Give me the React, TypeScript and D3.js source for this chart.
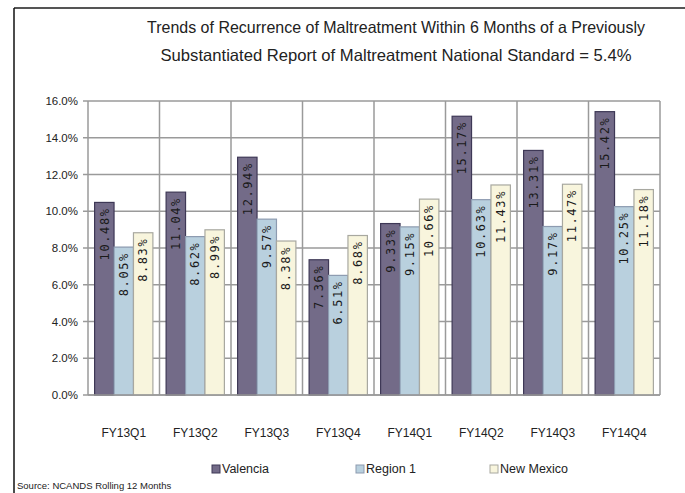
import * as React from 'react';
import * as d3 from 'd3';

const categories = ['FY13Q1', 'FY13Q2', 'FY13Q3', 'FY13Q4', 'FY14Q1', 'FY14Q2', 'FY14Q3', 'FY14Q4'];
const seriesNames = ['Valencia', 'Region 1', 'New Mexico'];
const valencia = [10.48, 11.04, 12.94, 7.36, 9.33, 15.17, 13.31, 15.42];
const region1 = [8.05, 8.62, 9.57, 6.51, 9.15, 10.63, 9.17, 10.25];
const newMexico = [8.83, 8.99, 8.38, 8.68, 10.66, 11.43, 11.47, 11.18];
const yTicks = [0, 2, 4, 6, 8, 10, 12, 14, 16];
const titleLines = [
  'Trends of Recurrence of Maltreatment Within 6 Months of a Previously',
  'Substantiated Report of Maltreatment  National Standard = 5.4%',
];
const sourceText = 'Source:  NCANDS Rolling 12 Months';

const W = 685, H = 493;
const plot = { left: 88, right: 660, top: 101, bottom: 395 };
const fills = ['#736b88', '#b9d0de', '#f8f5dd'];
const strokes = ['#3e3856', '#8d9bb0', '#a8a8a0'];
const narrow = '"Liberation Sans Narrow", "Arial Narrow", "Liberation Sans", sans-serif';

export default function App() {
  const x = d3.scaleBand<string>().domain(categories).range([plot.left, plot.right]);
  const xs = d3.scaleBand<string>().domain(seriesNames).range([0, x.bandwidth()]).paddingOuter(0.34);
  const y = d3.scaleLinear().domain([0, 16]).range([plot.bottom, plot.top]);
  const data = [valencia, region1, newMexico];
  const fmt = (v: number) => `${v.toFixed(2).replace(/0$/, '')}%`;

  const legendX = [212, 356, 490];

  return (
    <div style={{ position: 'absolute', left: 0, top: 0 }}>
      <svg width={W} height={H} style={{ display: 'block', background: '#fff' }}>
        {/* frame */}
        <line x1={14} y1={8} x2={W} y2={8} stroke="#555" strokeWidth={2} />
        <line x1={14} y1={8} x2={14} y2={H} stroke="#111" strokeWidth={1.5} />

        {titleLines.map((t, i) => (
          <text key={i} x={396} y={33 + i * 28} textAnchor="middle" fontFamily={narrow} fontSize={16.5}
            fill="#222" textLength={i === 0 ? 498 : 471} lengthAdjust="spacingAndGlyphs">{t}</text>
        ))}

        {/* grid */}
        {yTicks.map(t => (
          <g key={t}>
            <line x1={plot.left - 5} x2={plot.right} y1={y(t)} y2={y(t)} stroke="#9a9a9a" strokeWidth={1.5} />
            <text x={78} y={y(t)} dy="0.35em" textAnchor="end" fontFamily={narrow} fontSize={11.5} fill="#222">
              {t.toFixed(1)}%
            </text>
          </g>
        ))}
        {categories.map(c => (
          <line key={c} x1={x(c)!} x2={x(c)!} y1={plot.top} y2={plot.bottom} stroke="#9a9a9a" strokeWidth={1.5} />
        ))}
        <line x1={plot.right} x2={plot.right} y1={plot.top} y2={plot.bottom} stroke="#9a9a9a" strokeWidth={1.5} />

        {/* bars */}
        {categories.map((c, ci) => (
          <g key={c} transform={`translate(${x(c)},0)`}>
            {seriesNames.map((s, si) => {
              const v = data[si][ci];
              const bx = xs(s)!;
              return (
                <g key={s}>
                  <rect x={bx} y={y(v)} width={xs.bandwidth()} height={plot.bottom - y(v)}
                    fill={fills[si]} stroke={strokes[si]} strokeWidth={1.2} />
                  <text transform={`translate(${bx + xs.bandwidth() / 2},${y(v) + 5}) rotate(-90)`}
                    textAnchor="end" dy="0.35em" fontFamily='"DejaVu Sans Mono", monospace' fontSize={12}
                    letterSpacing={1.6} fill="#1a1a1a">{fmt(v)}</text>
                </g>
              );
            })}
          </g>
        ))}
        <line x1={plot.left} x2={plot.right} y1={plot.bottom} y2={plot.bottom} stroke="#9a9a9a" strokeWidth={1.5} />

        {categories.map(c => (
          <text key={c} x={x(c)! + x.bandwidth() / 2} y={433} dy="0.35em" textAnchor="middle"
            fontFamily={narrow} fontSize={12} fill="#222">{c}</text>
        ))}

        {/* legend */}
        {seriesNames.map((s, i) => (
          <g key={s}>
            <rect x={legendX[i]} y={465} width={8} height={8} fill={fills[i]} stroke={strokes[i]} strokeWidth={1} />
            <text x={legendX[i] + 10} y={469} dy="0.35em" fontFamily={narrow} fontSize={12.5} fill="#222">{s}</text>
          </g>
        ))}

        <text x={17} y={489} fontFamily={narrow} fontSize={9.5} fill="#222">{sourceText}</text>
      </svg>
    </div>
  );
}
